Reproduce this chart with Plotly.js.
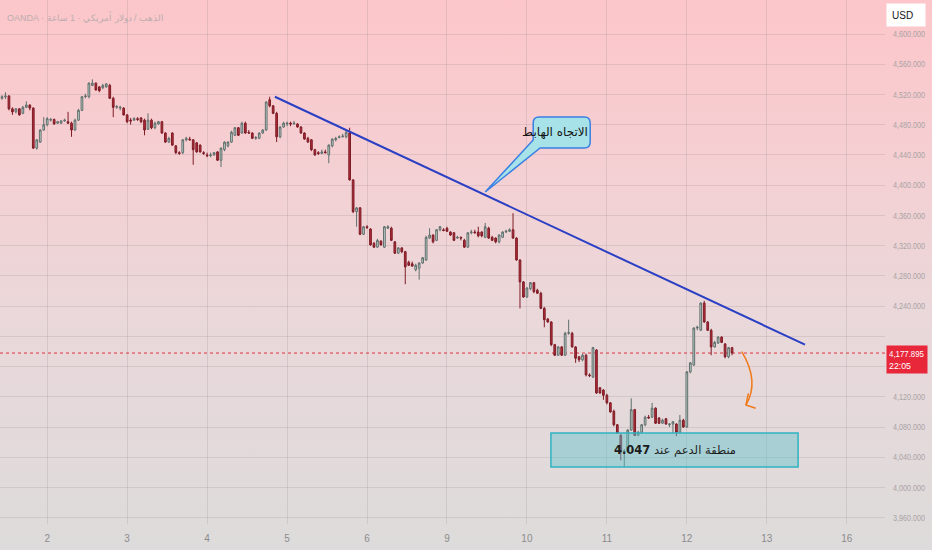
<!DOCTYPE html>
<html><head><meta charset="utf-8">
<script src="https://cdn.plot.ly/plotly-3.0.1.min.js"></script>
<style>
html,body{margin:0;padding:0;}
#chart{width:932px;height:550px;background:linear-gradient(to bottom,#fcc6ca 0%,#f5cfd2 28%,#ead8da 58%,#dddbdb 100%);}
</style></head><body><div id="chart"></div>
<script>
// Hourly XAU/USD candles (OANDA)
const open = [
4515,4517,4518,4501,4497,4501,4495,4503,4506,4502,
4449,4457,4473,4480,4486,4487,4482,4482,4485,4484,
4482,4473,4486,4499,4517,4517,4532,4535,4530,4529,
4530,4532,4515,4503,4502,4502,4493,4486,4486,4488,
4489,4486,4474,4486,4476,4481,4484,4469,4457,4469,
4452,4443,4443,4460,4461,4460,4456,4453,4443,4440,
4439,4440,4444,4433,4447,4452,4457,4466,4476,4469,
4482,4470,4469,4462,4462,4469,4473,4513,4505,4495,
4464,4477,4481,4482,4481,4481,4477,4469,4462,4460,
4447,4443,4442,4444,4440,4452,4460,4463,4464,4464,
4469,4407,4365,4370,4335,4345,4342,4323,4318,4326,
4318,4343,4343,4325,4310,4317,4312,4298,4296,4288,
4290,4297,4301,4330,4334,4327,4341,4341,4343,4338,
4337,4330,4331,4327,4318,4337,4338,4338,4338,4331,
4343,4331,4330,4325,4331,4338,4339,4341,4330,4301,
4272,4252,4263,4271,4261,4257,4237,4223,4219,4189,
4175,4186,4175,4204,4204,4186,4173,4169,4175,4149,
4146,4182,4132,4129,4122,4112,4101,4083,4069,4047,
4048,4076,4103,4069,4073,4083,4093,4093,4105,4092,
4085,4091,4083,4084,4084,4073,4089,4080,4153,4162,
4211,4208,4244,4219,4208,4186,4191,4199,4190,4173,4185];
const high = [
4519,4523,4519,4503,4502,4502,4505,4511,4507,4503,
4461,4474,4490,4490,4489,4488,4485,4486,4488,4497,
4484,4488,4501,4518,4521,4536,4540,4536,4531,4534,
4535,4534,4517,4506,4505,4503,4494,4489,4490,4490,
4490,4488,4495,4488,4484,4485,4485,4470,4464,4470,
4453,4445,4461,4464,4464,4461,4457,4454,4445,4443,
4443,4444,4445,4450,4458,4458,4472,4477,4477,4484,
4484,4473,4470,4465,4470,4474,4511,4517,4506,4497,
4478,4484,4484,4484,4485,4482,4478,4470,4464,4461,
4448,4445,4447,4447,4454,4462,4464,4466,4468,4473,
4476,4408,4371,4371,4346,4347,4343,4325,4329,4327,
4346,4347,4345,4326,4318,4318,4313,4300,4299,4296,
4298,4305,4333,4343,4335,4342,4346,4343,4345,4339,
4338,4333,4332,4329,4338,4341,4341,4345,4339,4350,
4345,4333,4331,4335,4339,4341,4343,4363,4331,4302,
4273,4265,4272,4272,4263,4259,4239,4224,4220,4190,
4187,4187,4206,4222,4206,4187,4174,4177,4177,4151,
4186,4183,4133,4130,4124,4113,4103,4084,4071,4051,
4077,4118,4104,4075,4084,4095,4096,4112,4106,4093,
4091,4092,4085,4088,4085,4096,4091,4154,4166,4212,
4214,4245,4247,4220,4210,4194,4200,4200,4191,4186,4186];
const low = [
4513,4514,4499,4493,4495,4492,4494,4502,4499,4448,
4447,4456,4472,4478,4484,4480,4481,4481,4484,4481,
4464,4472,4485,4498,4515,4515,4531,4525,4523,4527,
4529,4514,4490,4501,4499,4492,4482,4480,4485,4485,
4482,4466,4473,4474,4474,4480,4468,4456,4456,4452,
4441,4440,4441,4458,4459,4427,4443,4443,4440,4437,
4437,4439,4432,4424,4445,4450,4456,4465,4465,4468,
4468,4468,4461,4460,4461,4468,4472,4503,4494,4457,
4462,4476,4478,4478,4480,4476,4468,4460,4456,4445,
4439,4440,4441,4442,4429,4450,4458,4462,4463,4462,
4406,4363,4345,4334,4334,4342,4320,4317,4317,4320,
4317,4342,4326,4309,4309,4310,4269,4293,4292,4286,
4275,4296,4300,4329,4323,4326,4339,4339,4338,4333,
4326,4329,4327,4317,4317,4335,4336,4331,4331,4330,
4329,4326,4323,4323,4330,4337,4338,4329,4300,4237,
4251,4251,4261,4257,4256,4236,4212,4218,4187,4174,
4174,4174,4174,4202,4185,4165,4166,4167,4147,4146,
4145,4124,4124,4116,4110,4099,4081,4071,4036,4027,
4047,4075,4068,4068,4072,4081,4091,4092,4084,4084,
4084,4083,4080,4072,4068,4072,4079,4079,4151,4161,
4208,4207,4218,4207,4175,4185,4190,4191,4171,4171,4175];
const close = [
4517,4518,4501,4497,4501,4493,4503,4506,4502,4449,
4460,4473,4480,4488,4487,4481,4484,4485,4486,4482,
4473,4486,4499,4517,4518,4535,4535,4526,4525,4532,
4534,4515,4503,4504,4503,4493,4484,4485,4488,4487,
4484,4473,4486,4476,4482,4484,4469,4457,4462,4453,
4443,4442,4460,4462,4460,4447,4444,4444,4442,4439,
4440,4443,4433,4449,4457,4457,4470,4476,4466,4482,
4469,4469,4462,4463,4469,4473,4510,4505,4495,4464,
4477,4482,4482,4481,4482,4477,4469,4461,4457,4447,
4440,4442,4444,4443,4453,4461,4462,4464,4465,4470,
4407,4365,4370,4335,4345,4344,4321,4318,4327,4321,
4345,4345,4327,4310,4317,4312,4292,4294,4293,4294,
4297,4304,4331,4334,4325,4341,4345,4340,4339,4334,
4327,4331,4330,4318,4337,4338,4337,4333,4333,4345,
4330,4327,4325,4334,4338,4339,4341,4330,4301,4272,
4252,4264,4271,4259,4257,4237,4222,4219,4189,4175,
4186,4175,4204,4205,4186,4171,4169,4175,4149,4148,
4185,4125,4125,4122,4112,4100,4083,4072,4047,4048,
4076,4103,4069,4073,4083,4093,4092,4105,4085,4085,
4089,4084,4084,4087,4073,4089,4080,4153,4165,4211,
4212,4244,4219,4208,4186,4192,4199,4192,4173,4185,4177.895];

const dayLabels = ['2','3','4','5','6','9','10','11','12','13','16'];
const dayStartIndex = [13,36,59,82,105,128,151,174,197,220,243];
const priceTicks = [3960,4000,4040,4080,4120,4160,4200,4240,4280,4320,4360,4400,4440,4480,4520,4560,4600];
const lastClose = close[close.length - 1];
const countdown = '22:05';
const titleText = 'OANDA · الذهب / دولار أمريكي · 1 ساعة';
const trendLabel = 'الاتجاه الهابط';
const supportLevel = '4.047';
const supportLabel = 'منطقة الدعم عند ';

const idx = close.map((_, i) => i);
const fmt3 = v => v.toLocaleString('en-US', {minimumFractionDigits: 3, maximumFractionDigits: 3});
// the scale label hidden behind the live price tag is left blank, as in the picture
const priceTickText = priceTicks.map(v => Math.abs(v - lastClose) < 25 ? '' : fmt3(v));
const sans = 'Liberation Sans, Arial, sans-serif';
const arabic = 'DejaVu Sans, Noto Sans, sans-serif';
const gridC = 'rgba(120,110,112,0.17)';

const trace = {
  type: 'candlestick', x: idx, open: open, high: high, low: low, close: close,
  increasing: {line: {color: '#5f6f6c', width: 1}, fillcolor: '#c4d5d1'},
  decreasing: {line: {color: '#7e1d27', width: 1}, fillcolor: '#b32a37'},
  hoverinfo: 'skip', showlegend: false
};

const layout = {
  width: 932, height: 550,
  paper_bgcolor: 'rgba(0,0,0,0)', plot_bgcolor: 'rgba(0,0,0,0)',
  margin: {l: 0, r: 47, t: 0, b: 26},
  showlegend: false,
  xaxis: {
    range: [-0.575, 254], tickvals: dayStartIndex, ticktext: dayLabels,
    showgrid: true, gridcolor: gridC, gridwidth: 1, zeroline: false, showline: false,
    ticks: '', ticklabelstandoff: 7,
    tickfont: {family: sans, size: 10, color: '#8c8c8c'},
    rangeslider: {visible: false}, fixedrange: true
  },
  yaxis: {
    side: 'right', range: [3951.7, 4645], tickvals: priceTicks, ticktext: priceTickText,
    showgrid: true, gridcolor: gridC, gridwidth: 1, zeroline: false, showline: false,
    ticks: '', ticklabelstandoff: 7,
    tickfont: {family: sans, size: 9, color: '#a9a4a5'}, fixedrange: true
  },
  shapes: [
    {type: 'line', xref: 'paper', x0: 0, x1: 1, yref: 'y', y0: lastClose, y1: lastClose,
     line: {color: '#e2303f', width: 1, dash: 'dot'}, layer: 'below'},
    {type: 'line', xref: 'x', yref: 'y', x0: 78.5, y0: 4517, x1: 231.0, y1: 4189,
     line: {color: '#2a3fc4', width: 2}},
    {type: 'path', xref: 'x', yref: 'y',
     path: 'M 154.5,4490.2 L 167.5,4490.2 Q 169.2,4490.2 169.2,4482.3 L 169.2,4457.1 Q 169.2,4449.2 167.5,4449.2 L 154.8,4449.2 L 139.0,4391.0 L 152.8,4459.8 L 152.8,4482.3 Q 152.8,4490.2 154.5,4490.2 Z',
     fillcolor: '#a7e2e9', line: {color: '#3b7fe2', width: 1.5}},
    {type: 'rect', xref: 'x', yref: 'y', x0: 157.9, x1: 229.0, y0: 4027, y1: 4072,
     fillcolor: 'rgba(95,195,205,0.45)', line: {color: '#2fb2c2', width: 1.5}},
    {type: 'path', xref: 'x', yref: 'y',
     path: 'M 212.8,4179.7 Q 218.0,4140.0 214.0,4109.1',
     line: {color: '#f07a1c', width: 1.5}},
    {type: 'path', xref: 'x', yref: 'y',
     path: 'M 214.7,4124.6 L 214.0,4109.1 L 216.8,4104.8',
     line: {color: '#f07a1c', width: 1.5}}
  ],
  annotations: [
    {xref: 'paper', yref: 'paper', x: 0, y: 1, xanchor: 'left', yanchor: 'top', xshift: 5, yshift: -9,
     text: titleText, showarrow: false, font: {family: sans, size: 9, color: '#bcadaf'}},
    {xref: 'x', yref: 'y', x: 159.1, y: 4470.4, text: trendLabel, showarrow: false,
     font: {family: arabic, size: 12, color: '#141414'}},
    {xref: 'x', yref: 'y', x: 193.6, y: 4049.6, text: supportLabel + '<b>' + supportLevel + '</b>', showarrow: false,
     font: {family: arabic, size: 11.5, color: '#1c1c1c'}},
    {xref: 'paper', yref: 'y', x: 1, y: lastClose, xanchor: 'left', yanchor: 'top', xshift: 1, yshift: 8,
     text: fmt3(lastClose) + '<br>' + countdown,
     showarrow: false, align: 'left', bgcolor: '#e8273b', borderpad: 2, width: 36,
     font: {family: sans, size: 9.5, color: '#ffffff'}},
    {xref: 'paper', yref: 'paper', x: 1, y: 1, xanchor: 'left', yanchor: 'top', xshift: 1, yshift: -3,
     text: 'USD', showarrow: false, align: 'left', bgcolor: '#ffffff', borderpad: 5, width: 28, height: 12,
     font: {family: sans, size: 10, color: '#131722'}}
  ]
};

Plotly.newPlot('chart', [trace], layout, {displayModeBar: false, staticPlot: true}).then(function (gd) {
  // narrow the price-scale numbers like the condensed TradingView scale font
  gd.querySelectorAll('.ytick text').forEach(function (t) {
    if (t.textContent) {
      t.setAttribute('textLength', '32');
      t.setAttribute('lengthAdjust', 'spacingAndGlyphs');
    }
  });
  gd.querySelectorAll('.annotation-text').forEach(function (t) {
    const lines = t.querySelectorAll('tspan.line');
    if (lines.length === 2 && lines[1].textContent === countdown) {
      lines[0].setAttribute('textLength', '35');
      lines[0].setAttribute('lengthAdjust', 'spacingAndGlyphs');
      lines[1].setAttribute('textLength', '22');
      lines[1].setAttribute('lengthAdjust', 'spacingAndGlyphs');
    }
  });
});
</script></body></html>
